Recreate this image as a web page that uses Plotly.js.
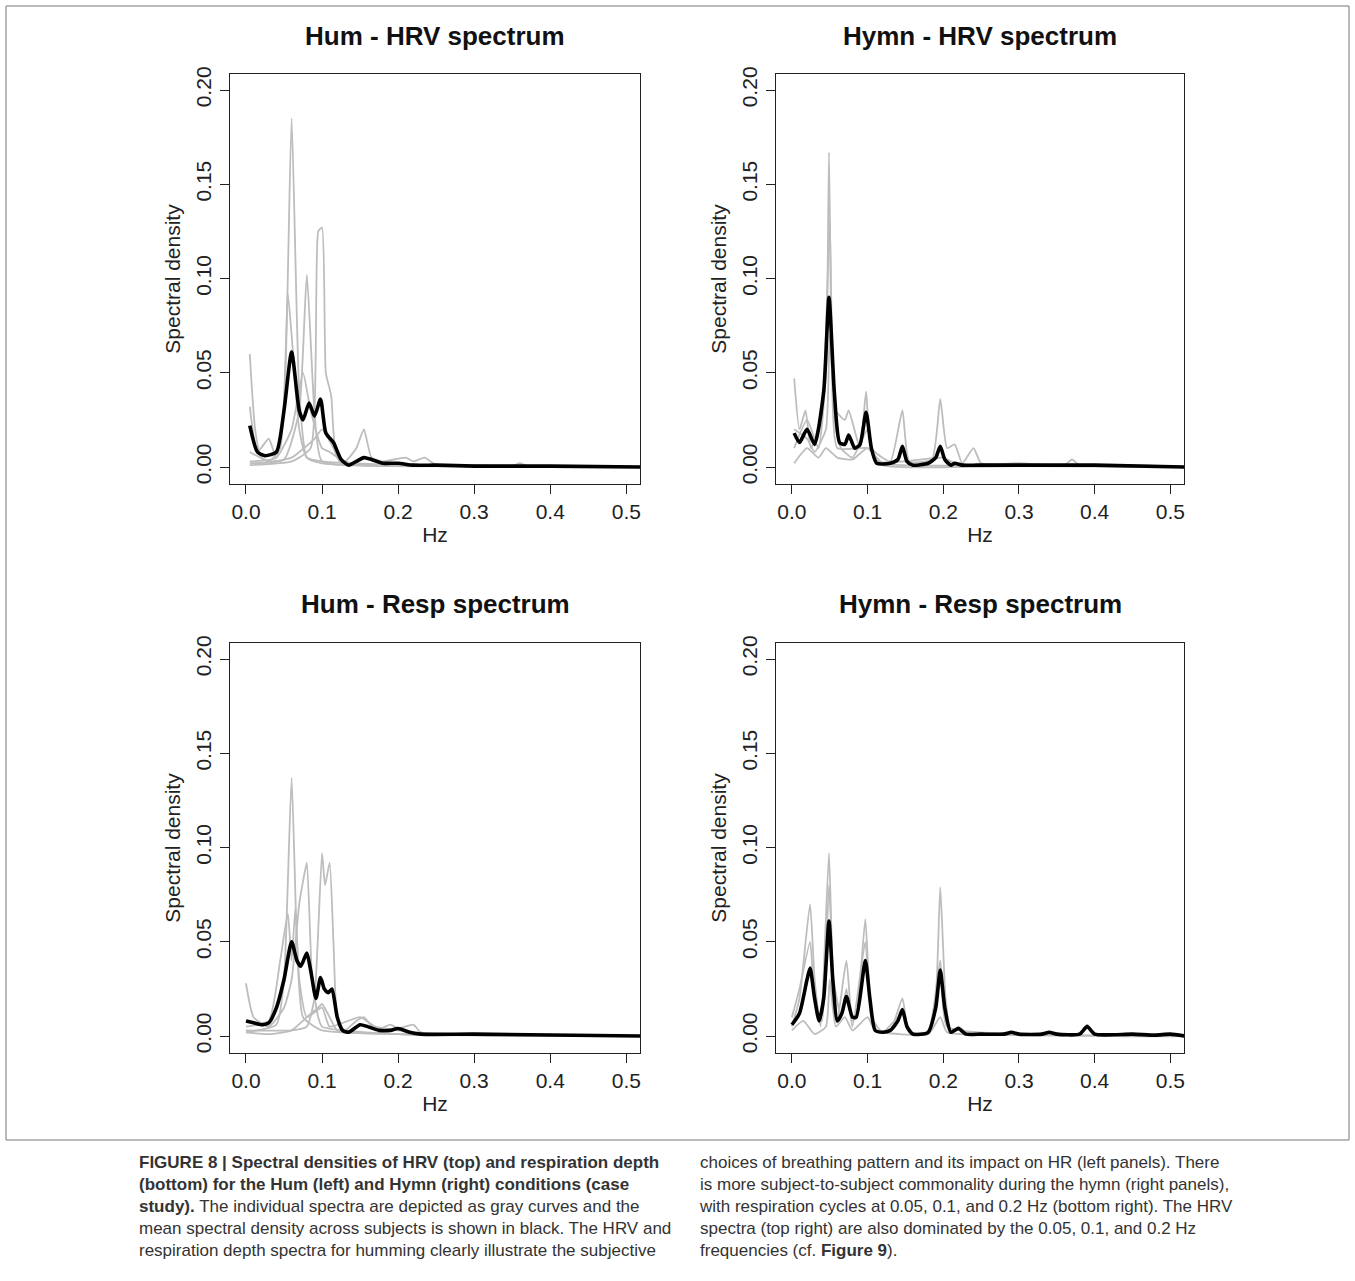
<!DOCTYPE html>
<html>
<head>
<meta charset="utf-8">
<script src="https://cdn.plot.ly/plotly-3.0.1.min.js"></script>
<style>body{margin:0;background:#fff}#chart{width:1355px;height:1281px}</style>
</head>
<body>
<div id="chart"></div>
<script>
// Hum - HRV
var humHrvMeanX = [0.005,0.015,0.025,0.04,0.05,0.06,0.07,0.075,0.083,0.09,0.098,0.105,0.115,0.125,0.135,0.145,0.155,0.165,0.18,0.2,0.22,0.25,0.3,0.4,0.52];
var humHrvMeanY = [0.022,0.008,0.006,0.008,0.03,0.061,0.03,0.025,0.034,0.027,0.036,0.018,0.013,0.004,0.001,0.003,0.005,0.004,0.002,0.002,0.001,0.001,0.0005,0.0005,0];
var humHrvGray = [
  [[0.005,0.04,0.05,0.06,0.07,0.08,0.1,0.15,0.3,0.52],[0.003,0.005,0.03,0.185,0.04,0.005,0.002,0.001,0.0005,0]],
  [[0.005,0.06,0.085,0.095,0.1,0.105,0.112,0.12,0.15,0.3,0.52],[0.001,0.003,0.01,0.125,0.127,0.05,0.038,0.005,0.001,0.0005,0]],
  [[0.005,0.05,0.07,0.08,0.09,0.1,0.2,0.52],[0.002,0.004,0.03,0.102,0.03,0.003,0.001,0]],
  [[0.005,0.012,0.02,0.03,0.045,0.055,0.06,0.07,0.08,0.1,0.2,0.52],[0.06,0.02,0.005,0.003,0.01,0.092,0.07,0.02,0.005,0.003,0.001,0]],
  [[0.005,0.015,0.03,0.04,0.06,0.075,0.085,0.1,0.11,0.13,0.145,0.155,0.165,0.18,0.21,0.22,0.235,0.25,0.3,0.35,0.36,0.37,0.45,0.52],[0.032,0.008,0.015,0.005,0.02,0.05,0.03,0.01,0.008,0.003,0.01,0.02,0.005,0.003,0.005,0.003,0.005,0.001,0.001,0.0005,0.002,0.0005,0.0005,0]],
  [[0.005,0.03,0.06,0.09,0.1,0.115,0.125,0.3,0.52],[0.008,0.003,0.005,0.015,0.02,0.01,0.002,0.001,0]]
];
// Hymn - HRV
var hymnHrvMeanX = [0.003,0.01,0.02,0.03,0.042,0.049,0.056,0.063,0.07,0.075,0.083,0.09,0.098,0.105,0.112,0.13,0.14,0.146,0.152,0.16,0.18,0.19,0.196,0.202,0.21,0.215,0.225,0.245,0.3,0.4,0.52];
var hymnHrvMeanY = [0.018,0.013,0.02,0.012,0.04,0.09,0.04,0.013,0.012,0.017,0.01,0.012,0.029,0.01,0.002,0.002,0.004,0.011,0.003,0.001,0.002,0.005,0.011,0.004,0.001,0.002,0.001,0.001,0.001,0.001,0];
var hymnHrvGray = [
  [[0.003,0.02,0.035,0.045,0.049,0.053,0.06,0.1,0.12,0.3,0.52],[0.01,0.025,0.01,0.05,0.167,0.05,0.01,0.01,0.002,0.001,0]],
  [[0.003,0.01,0.018,0.025,0.04,0.05,0.058,0.07,0.075,0.09,0.098,0.105,0.13,0.146,0.155,0.185,0.196,0.205,0.215,0.225,0.24,0.25,0.3,0.36,0.37,0.38,0.45,0.52],[0.047,0.02,0.03,0.01,0.03,0.13,0.03,0.025,0.03,0.01,0.04,0.01,0.003,0.03,0.003,0.004,0.036,0.01,0.012,0.002,0.01,0.002,0.002,0.001,0.004,0.001,0.001,0]],
  [[0.003,0.02,0.03,0.045,0.05,0.058,0.065,0.08,0.1,0.11,0.15,0.2,0.22,0.3,0.52],[0.02,0.015,0.008,0.02,0.07,0.02,0.01,0.005,0.02,0.003,0.003,0.005,0.001,0.001,0]],
  [[0.003,0.02,0.035,0.045,0.06,0.08,0.1,0.12,0.3,0.52],[0.002,0.01,0.005,0.01,0.005,0.004,0.01,0.001,0.0005,0]]
];
// Hum - Resp
var humRespMeanX = [0.0,0.01,0.02,0.03,0.04,0.05,0.06,0.067,0.072,0.08,0.085,0.092,0.098,0.103,0.108,0.113,0.12,0.127,0.135,0.15,0.16,0.175,0.19,0.2,0.215,0.23,0.3,0.52];
var humRespMeanY = [0.008,0.007,0.006,0.007,0.015,0.03,0.05,0.04,0.037,0.044,0.035,0.02,0.031,0.025,0.023,0.025,0.01,0.003,0.002,0.006,0.005,0.003,0.003,0.004,0.002,0.001,0.001,0];
var humRespGray = [
  [[0.0,0.04,0.05,0.06,0.067,0.075,0.1,0.2,0.52],[0.002,0.006,0.03,0.137,0.05,0.01,0.003,0.001,0]],
  [[0.0,0.01,0.03,0.05,0.06,0.07,0.075,0.08,0.087,0.095,0.1,0.2,0.52],[0.028,0.01,0.005,0.015,0.03,0.07,0.082,0.092,0.03,0.01,0.005,0.001,0]],
  [[0.0,0.06,0.08,0.09,0.1,0.104,0.11,0.115,0.12,0.13,0.145,0.155,0.17,0.19,0.2,0.22,0.23,0.3,0.52],[0.003,0.003,0.005,0.02,0.097,0.08,0.092,0.05,0.01,0.003,0.008,0.01,0.003,0.006,0.004,0.006,0.002,0.001,0]],
  [[0.0,0.03,0.045,0.055,0.06,0.065,0.07,0.08,0.1,0.11,0.15,0.17,0.25,0.52],[0.005,0.008,0.04,0.065,0.04,0.068,0.03,0.01,0.015,0.005,0.01,0.005,0.001,0]],
  [[0.0,0.03,0.06,0.08,0.095,0.1,0.11,0.12,0.2,0.52],[0.002,0.001,0.003,0.01,0.015,0.017,0.01,0.003,0.001,0]]
];
// Hymn - Resp
var hymnRespMeanX = [0.0,0.01,0.02,0.024,0.03,0.036,0.042,0.049,0.054,0.06,0.066,0.072,0.08,0.085,0.097,0.103,0.11,0.12,0.13,0.14,0.146,0.152,0.16,0.18,0.19,0.196,0.202,0.21,0.22,0.23,0.25,0.28,0.29,0.3,0.33,0.34,0.35,0.38,0.39,0.4,0.45,0.48,0.5,0.52];
var hymnRespMeanY = [0.006,0.012,0.03,0.036,0.02,0.008,0.02,0.061,0.03,0.008,0.012,0.021,0.01,0.01,0.04,0.02,0.003,0.002,0.003,0.008,0.014,0.005,0.001,0.002,0.015,0.035,0.015,0.002,0.004,0.001,0.001,0.001,0.002,0.001,0.001,0.002,0.001,0.001,0.005,0.001,0.001,0.0005,0.001,0];
var hymnRespGray = [
  [[0.0,0.01,0.024,0.03,0.038,0.049,0.055,0.06,0.072,0.08,0.085,0.097,0.103,0.11,0.13,0.146,0.155,0.18,0.19,0.196,0.203,0.21,0.22,0.23,0.3,0.38,0.39,0.4,0.52],[0.005,0.02,0.07,0.03,0.005,0.097,0.02,0.008,0.04,0.008,0.01,0.062,0.02,0.003,0.003,0.02,0.002,0.002,0.02,0.079,0.02,0.002,0.005,0.002,0.001,0.001,0.006,0.001,0]],
  [[0.0,0.01,0.024,0.03,0.04,0.049,0.055,0.065,0.072,0.08,0.097,0.105,0.12,0.146,0.155,0.18,0.196,0.205,0.3,0.52],[0.01,0.025,0.05,0.02,0.008,0.08,0.03,0.01,0.025,0.005,0.05,0.01,0.002,0.012,0.002,0.002,0.04,0.005,0.001,0]],
  [[0.0,0.015,0.03,0.045,0.05,0.058,0.07,0.08,0.1,0.11,0.18,0.196,0.205,0.3,0.52],[0.003,0.008,0.001,0.005,0.03,0.005,0.01,0.003,0.01,0.003,0.001,0.01,0.002,0.0005,0]]
];

var panels = [
  {gray: humHrvGray, mx: humHrvMeanX, my: humHrvMeanY, xa: 'x', ya: 'y', title: 'Hum - HRV spectrum'},
  {gray: hymnHrvGray, mx: hymnHrvMeanX, my: hymnHrvMeanY, xa: 'x2', ya: 'y2', title: 'Hymn - HRV spectrum'},
  {gray: humRespGray, mx: humRespMeanX, my: humRespMeanY, xa: 'x3', ya: 'y3', title: 'Hum - Resp spectrum'},
  {gray: hymnRespGray, mx: hymnRespMeanX, my: hymnRespMeanY, xa: 'x4', ya: 'y4', title: 'Hymn - Resp spectrum'}
];

var data = [];
panels.forEach(function(p) {
  p.gray.forEach(function(g) {
    data.push({x: g[0], y: g[1], xaxis: p.xa, yaxis: p.ya, type: 'scatter', mode: 'lines',
      line: {color: '#bdbdbd', width: 1.8, shape: 'spline', smoothing: 0.5}, hoverinfo: 'skip'});
  });
  data.push({x: p.mx, y: p.my, xaxis: p.xa, yaxis: p.ya, type: 'scatter', mode: 'lines',
    line: {color: '#000', width: 3.6, shape: 'spline', smoothing: 0.6}});
});

var fnt = {family: 'Liberation Sans, Arial, sans-serif', size: 21, color: '#222'};
function xax(dom, anchor) {
  return {domain: dom, anchor: anchor, range: [-0.021, 0.518], tickvals: [0,0.1,0.2,0.3,0.4,0.5],
    ticktext: ['0.0','0.1','0.2','0.3','0.4','0.5'], ticks: 'outside', ticklen: 9, tickcolor: '#222',
    showline: true, mirror: true, linecolor: '#222', linewidth: 1.2, showgrid: false, zeroline: false,
    tickfont: fnt, title: {text: 'Hz', font: fnt, standoff: 4}};
}
function yax(dom, anchor) {
  return {domain: dom, anchor: anchor, range: [-0.009, 0.2085], tickvals: [0,0.05,0.1,0.15,0.2],
    ticktext: ['0.00','0.05','0.10','0.15','0.20'], tickangle: -90, ticks: 'outside', ticklen: 9, tickcolor: '#222',
    showline: true, mirror: true, linecolor: '#222', linewidth: 1.2, showgrid: false, zeroline: false,
    tickfont: fnt, title: {text: 'Spectral density', font: fnt, standoff: 6}};
}
var xL = [230/1355, 640/1355], xR = [776/1355, 1184/1355];
var yT = [1-484/1281, 1-74/1281], yB = [1-1053/1281, 1-643/1281];

var ann = [];
var tPos = [[435, 36], [980, 36], [435, 604], [980, 604]];
panels.forEach(function(p, i) {
  ann.push({text: '<b>' + p.title + '</b>', xref: 'paper', yref: 'paper', x: tPos[i][0]/1355, y: 1-tPos[i][1]/1281,
    showarrow: false, xanchor: 'center', yanchor: 'middle', font: {family: 'Liberation Sans, Arial, sans-serif', size: 26, color: '#111'}});
});
var capFont = {family: 'Liberation Sans, Arial, sans-serif', size: 17, color: '#333'};
var capLeft = '<b>FIGURE 8 | Spectral densities of HRV (top) and respiration depth</b><br>' +
  '<b>(bottom) for the Hum (left) and Hymn (right) conditions (case</b><br>' +
  '<b>study).</b> The individual spectra are depicted as gray curves and the<br>' +
  'mean spectral density across subjects is shown in black. The HRV and<br>' +
  'respiration depth spectra for humming clearly illustrate the subjective';
var capRight = 'choices of breathing pattern and its impact on HR (left panels). There<br>' +
  'is more subject-to-subject commonality during the hymn (right panels),<br>' +
  'with respiration cycles at 0.05, 0.1, and 0.2 Hz (bottom right). The HRV<br>' +
  'spectra (top right) are also dominated by the 0.05, 0.1, and 0.2 Hz<br>' +
  'frequencies (cf. <b>Figure 9</b>).';
ann.push({text: capLeft, xref: 'paper', yref: 'paper', x: 137/1355, y: 1-1151/1281, xanchor: 'left', yanchor: 'top',
  align: 'left', showarrow: false, font: capFont});
ann.push({text: capRight, xref: 'paper', yref: 'paper', x: 697/1355, y: 1-1151/1281, xanchor: 'left', yanchor: 'top',
  align: 'left', showarrow: false, font: capFont});

var layout = {
  width: 1355, height: 1281, margin: {l: 0, r: 0, t: 0, b: 0}, showlegend: false,
  paper_bgcolor: '#fff', plot_bgcolor: '#fff',
  xaxis: xax(xL, 'y'), yaxis: yax(yT, 'x'),
  xaxis2: xax(xR, 'y2'), yaxis2: yax(yT, 'x2'),
  xaxis3: xax(xL, 'y3'), yaxis3: yax(yB, 'x3'),
  xaxis4: xax(xR, 'y4'), yaxis4: yax(yB, 'x4'),
  annotations: ann,
  shapes: [{type: 'rect', xref: 'paper', yref: 'paper', x0: 6/1355, x1: 1349/1355, y0: 1-1140/1281, y1: 1-6/1281,
    line: {color: '#777', width: 1}}]
};
Plotly.newPlot('chart', data, layout, {staticPlot: true});
</script>
</body>
</html>
